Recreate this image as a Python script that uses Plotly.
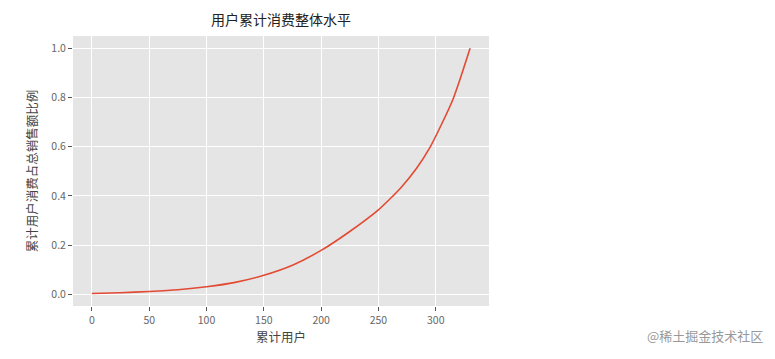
import plotly.graph_objects as go

users = [0, 25, 50, 75, 100, 125, 150, 175, 200, 225, 250, 260, 270, 283, 295, 305, 315, 322, 330]
cum_share = [0.003, 0.006, 0.011, 0.018, 0.03, 0.048, 0.077, 0.118, 0.178, 0.255, 0.343, 0.387, 0.435, 0.51, 0.597, 0.69, 0.792, 0.885, 1.0]
x_ticks = [0, 50, 100, 150, 200, 250, 300]
y_ticks = [0.0, 0.2, 0.4, 0.6, 0.8, 1.0]

FONT = "Noto Sans CJK SC, SimHei, sans-serif"

fig = go.Figure()
fig.add_trace(go.Scatter(x=users, y=cum_share, mode="lines",
                         line=dict(color="#E24A33", width=1.6, shape="spline", smoothing=0.6),
                         showlegend=False))

fig.update_layout(
    width=775, height=359,
    margin=dict(l=73, r=286, t=36, b=53),
    paper_bgcolor="white",
    plot_bgcolor="#E5E5E5",
    font=dict(family=FONT, color="#555555", size=10),
    title=dict(text="用户累计消费整体水平", x=281 / 775, xanchor="center", y=1 - 20 / 359, yanchor="middle",
               font=dict(family=FONT, size=14, color="#222222")),
)
fig.add_annotation(text="@稀土掘金技术社区", xref="paper", yref="paper",
                   x=(765 - 73) / (489 - 73), y=(306 - 335) / (306 - 36),
                   xanchor="right", yanchor="middle", showarrow=False,
                   font=dict(family=FONT, size=13, color="#999999"))

fig.update_xaxes(range=[-16.5, 346.5], tickvals=x_ticks, ticks="outside", ticklen=4, tickcolor="#555555",
                 showgrid=True, gridcolor="white", gridwidth=1, zeroline=False, showline=False,
                 tickfont=dict(size=10.5, color="#666666"),
                 title=dict(text="累计用户", font=dict(size=12.5, color="#444444"), standoff=6))
fig.update_yaxes(range=[-0.048, 1.05], tickvals=y_ticks, tickformat=".1f", ticks="outside", ticklen=4, tickcolor="#555555",
                 showgrid=True, gridcolor="white", gridwidth=1, zeroline=False, showline=False,
                 tickfont=dict(size=10.5, color="#666666"),
                 title=dict(text="累计用户消费占总销售额比例", font=dict(size=12.5, color="#444444"), standoff=10))

fig.write_html("out.html")
